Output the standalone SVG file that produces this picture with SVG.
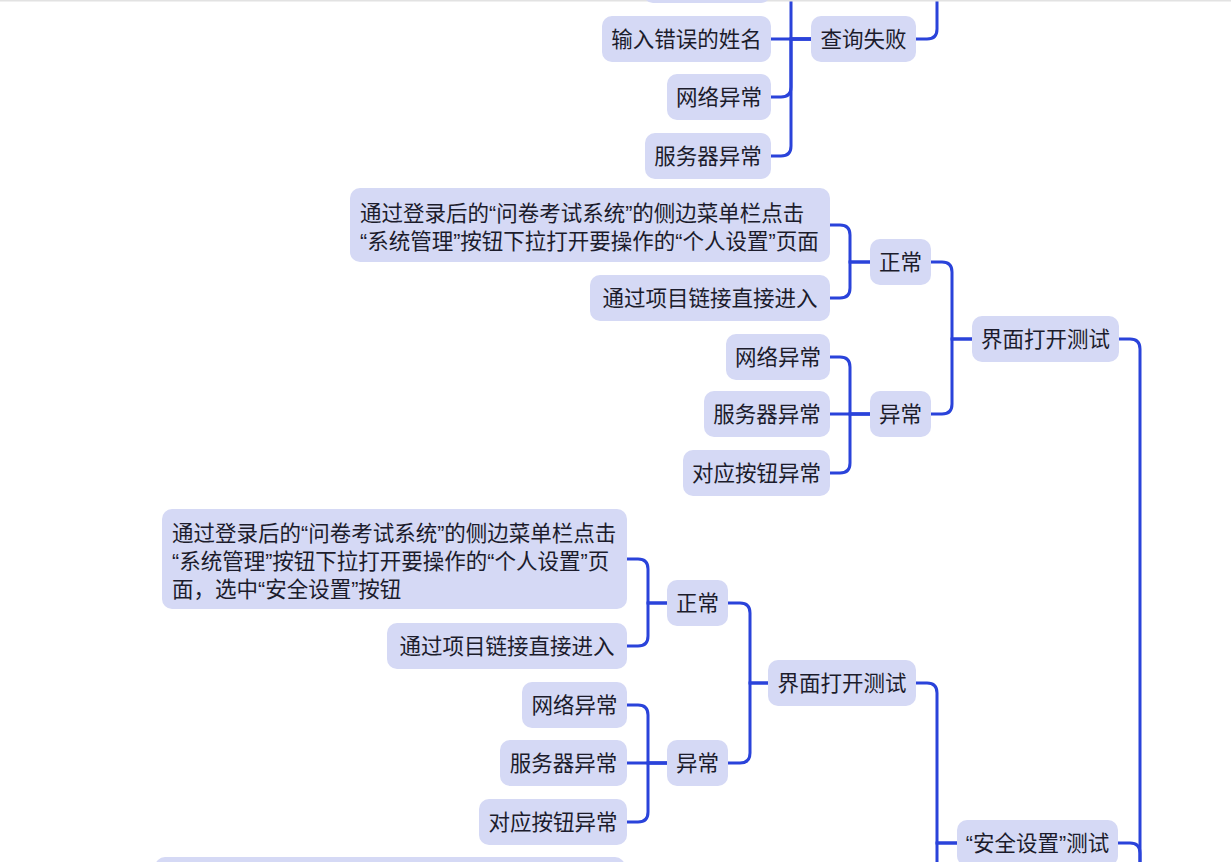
<svg xmlns="http://www.w3.org/2000/svg" width="1231" height="862" viewBox="0 0 1231 862">
<style>
.n{fill:#d5d9f5}
.t{font-family:"Liberation Sans","Noto Sans CJK SC",sans-serif;font-size:21.5px;fill:#1c1c2c}
.m{text-anchor:middle}
.c path{fill:none;stroke:#2a43da;stroke-width:3;stroke-linecap:round}
</style>
<rect x="0" y="0" width="1231" height="862" fill="#ffffff"/>
<g class="c" id="connectors">
<path d="M916 39 H927 Q937 39 937 29 V-10"/>
<path d="M811 39 H771"/>
<path d="M811 39 H791 V-10"/>
<path d="M811 39 H791 V87 Q791 97 781 97 H771"/>
<path d="M811 39 H791 V146 Q791 156 781 156 H771"/>
<path d="M870 262 H850 V235 Q850 225 840 225 H830"/>
<path d="M870 262 H850 V288 Q850 298 840 298 H830"/>
<path d="M972 339 H952 V272 Q952 262 942 262 H931"/>
<path d="M972 339 H952 V404 Q952 414 942 414 H931"/>
<path d="M870 414 H850 V367 Q850 357 840 357 H830"/>
<path d="M870 414 H830"/>
<path d="M870 414 H850 V463 Q850 473 840 473 H830"/>
<path d="M1119 339 H1130 Q1140 339 1140 349 V870"/>
<path d="M667 603 H648 V569 Q648 559 638 559 H627"/>
<path d="M667 603 H648 V636 Q648 646 638 646 H627"/>
<path d="M768 683 H750 V613 Q750 603 740 603 H728"/>
<path d="M768 683 H750 V753 Q750 763 740 763 H728"/>
<path d="M667 763 H648 V715 Q648 705 638 705 H627"/>
<path d="M667 763 H627"/>
<path d="M667 763 H648 V812 Q648 822 638 822 H627"/>
<path d="M957 843 H937 V693 Q937 683 927 683 H916"/>
<path d="M957 843 H937 V870"/>
<path d="M1118 843 H1130 Q1140 843 1140 853 V870"/>
</g>
<rect x="0" y="0" width="1231" height="1.5" fill="#e2e2e2"/>
<g id="n0"><rect class="n" x="643" y="-43" width="128" height="46" rx="10"/></g>
<g id="n1"><rect class="n" x="602" y="16" width="169" height="46" rx="10"/><text class="t m" x="686.5" y="47">输入错误的姓名</text></g>
<g id="n2"><rect class="n" x="811" y="16" width="105" height="46" rx="10"/><text class="t m" x="863.5" y="47">查询失败</text></g>
<g id="n3"><rect class="n" x="667" y="74" width="104" height="46" rx="10"/><text class="t m" x="719" y="105">网络异常</text></g>
<g id="n4"><rect class="n" x="645" y="133" width="126" height="46" rx="10"/><text class="t m" x="708" y="164">服务器异常</text></g>
<g id="n5"><rect class="n" x="350" y="188" width="480" height="74" rx="10"/><text class="t" x="360" y="220.5">通过登录后的“问卷考试系统”的侧边菜单栏点击</text><text class="t" x="360" y="248.5">“系统管理”按钮下拉打开要操作的“个人设置”页面</text></g>
<g id="n6"><rect class="n" x="590" y="275" width="240" height="46" rx="10"/><text class="t m" x="710" y="306">通过项目链接直接进入</text></g>
<g id="n7"><rect class="n" x="870" y="239" width="61" height="46" rx="10"/><text class="t m" x="900.5" y="270">正常</text></g>
<g id="n8"><rect class="n" x="972" y="316" width="147" height="46" rx="10"/><text class="t m" x="1045.5" y="347">界面打开测试</text></g>
<g id="n9"><rect class="n" x="726" y="334" width="104" height="46" rx="10"/><text class="t m" x="778" y="365">网络异常</text></g>
<g id="n10"><rect class="n" x="704" y="391" width="126" height="46" rx="10"/><text class="t m" x="767" y="422">服务器异常</text></g>
<g id="n11"><rect class="n" x="683" y="450" width="147" height="46" rx="10"/><text class="t m" x="756.5" y="481">对应按钮异常</text></g>
<g id="n12"><rect class="n" x="870" y="391" width="61" height="46" rx="10"/><text class="t m" x="900.5" y="422">异常</text></g>
<g id="n13"><rect class="n" x="162" y="509" width="465" height="100" rx="10"/><text class="t" x="172" y="541">通过登录后的“问卷考试系统”的侧边菜单栏点击</text><text class="t" x="172" y="569">“系统管理”按钮下拉打开要操作的“个人设置”页</text><text class="t" x="172" y="597">面，选中“安全设置”按钮</text></g>
<g id="n14"><rect class="n" x="387" y="623" width="240" height="46" rx="10"/><text class="t m" x="507" y="654">通过项目链接直接进入</text></g>
<g id="n15"><rect class="n" x="667" y="580" width="61" height="46" rx="10"/><text class="t m" x="697.5" y="611">正常</text></g>
<g id="n16"><rect class="n" x="768" y="660" width="148" height="46" rx="10"/><text class="t m" x="842" y="691">界面打开测试</text></g>
<g id="n17"><rect class="n" x="522" y="682" width="105" height="46" rx="10"/><text class="t m" x="574.5" y="713">网络异常</text></g>
<g id="n18"><rect class="n" x="500" y="740" width="127" height="46" rx="10"/><text class="t m" x="563.5" y="771">服务器异常</text></g>
<g id="n19"><rect class="n" x="479" y="799" width="148" height="46" rx="10"/><text class="t m" x="553" y="830">对应按钮异常</text></g>
<g id="n20"><rect class="n" x="667" y="740" width="61" height="46" rx="10"/><text class="t m" x="697.5" y="771">异常</text></g>
<g id="n21"><rect class="n" x="957" y="820" width="161" height="46" rx="10"/><text class="t m" x="1037.5" y="851">“安全设置”测试</text></g>
<g id="n22"><rect class="n" x="155" y="857" width="470" height="100" rx="10"/></g>
</svg>
